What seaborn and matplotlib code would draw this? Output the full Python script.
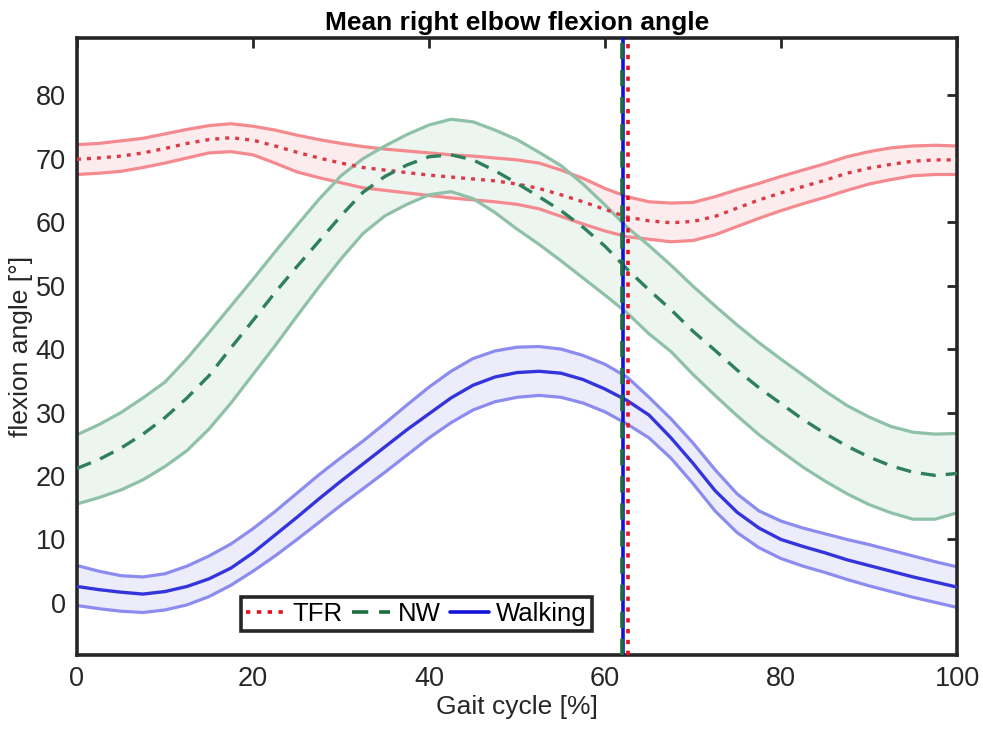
import numpy as np
import pandas as pd
import matplotlib
matplotlib.use("Agg")
import matplotlib.pyplot as plt
import seaborn as sns

# gait cycle samples (%)
gait = [0, 2.5, 5, 7.5, 10, 12.5, 15, 17.5, 20, 22.5, 25, 27.5, 30, 32.5, 35, 37.5, 40,
        42.5, 45, 47.5, 50, 52.5, 55, 57.5, 60, 62.5, 65, 67.5, 70, 72.5, 75, 77.5, 80,
        82.5, 85, 87.5, 90, 92.5, 95, 97.5, 100]

# TFR
tfr_mean = [69.9, 70.1, 70.4, 70.9, 71.6, 72.4, 73.0, 73.3, 72.9, 72.0, 71.0, 70.1, 69.3, 68.6,
            68.2, 67.8, 67.4, 67.1, 66.8, 66.5, 66.0, 65.3, 64.3, 63.2, 62.0, 60.8, 60.2, 59.9,
            60.1, 60.9, 62.2, 63.5, 64.6, 65.6, 66.6, 67.7, 68.5, 69.1, 69.6, 69.8, 69.8]
tfr_upper = [72.2, 72.4, 72.8, 73.2, 73.9, 74.6, 75.2, 75.5, 75.1, 74.5, 73.7, 73.0, 72.4, 71.9,
             71.5, 71.2, 70.9, 70.6, 70.4, 70.1, 69.8, 69.3, 68.2, 66.9, 65.3, 64.0, 63.2, 63.0,
             63.1, 64.0, 65.1, 66.1, 67.2, 68.2, 69.2, 70.3, 71.1, 71.7, 72.0, 72.1, 72.0]
tfr_lower = [67.5, 67.7, 68.0, 68.6, 69.3, 70.1, 70.9, 71.1, 70.6, 69.3, 67.9, 67.0, 66.2, 65.4,
             65.0, 64.6, 64.2, 63.8, 63.5, 63.2, 62.8, 62.1, 60.9, 59.7, 58.6, 57.7, 57.3, 56.9,
             57.1, 58.0, 59.3, 60.6, 61.8, 62.9, 63.9, 65.0, 66.0, 66.7, 67.3, 67.5, 67.5]

# NW
nw_mean = [21.2, 22.6, 24.4, 26.6, 29.2, 32.3, 35.8, 40.2, 44.5, 48.9, 53.0, 57.0, 61.0, 64.7,
           67.2, 69.0, 70.3, 70.6, 69.8, 68.1, 66.1, 64.0, 61.8, 59.2, 56.2, 52.6, 49.3, 46.2,
           42.8, 39.8, 36.7, 33.9, 31.4, 28.9, 26.7, 24.7, 23.0, 21.6, 20.6, 20.1, 20.4]
nw_upper = [26.5, 28.1, 30.0, 32.3, 34.8, 38.5, 42.6, 46.8, 51.0, 55.3, 59.5, 63.6, 67.3, 70.0,
            72.0, 73.8, 75.3, 76.2, 75.8, 74.5, 73.0, 71.0, 68.9, 66.0, 62.7, 59.2, 56.3, 53.2,
            49.9, 46.8, 43.8, 41.0, 38.4, 35.9, 33.4, 31.1, 29.3, 27.8, 26.9, 26.6, 26.7]
nw_lower = [15.6, 16.6, 17.8, 19.4, 21.5, 24.0, 27.4, 31.5, 36.0, 40.5, 45.2, 49.8, 54.2, 58.2,
            61.0, 62.8, 64.3, 64.8, 63.7, 61.5, 58.9, 56.5, 53.9, 51.2, 48.5, 45.7, 42.4, 39.6,
            36.0, 32.7, 29.5, 26.5, 23.9, 21.4, 19.2, 17.2, 15.5, 14.2, 13.2, 13.2, 14.2]

# Walking
walk_mean = [2.6, 2.1, 1.7, 1.4, 1.8, 2.6, 3.8, 5.5, 7.9, 10.7, 13.5, 16.4, 19.2, 21.9, 24.6,
             27.3, 29.8, 32.3, 34.3, 35.6, 36.3, 36.5, 36.2, 35.2, 33.7, 31.9, 29.6, 26.0, 22.0,
             17.7, 14.3, 11.8, 10.0, 8.9, 7.9, 6.8, 5.9, 5.0, 4.1, 3.3, 2.5]
walk_upper = [5.9, 5.0, 4.3, 4.1, 4.6, 5.8, 7.4, 9.3, 11.7, 14.4, 17.3, 20.2, 22.9, 25.5, 28.3,
              31.2, 34.0, 36.5, 38.5, 39.7, 40.3, 40.4, 40.0, 39.0, 37.6, 35.6, 32.4, 29.0, 25.2,
              21.0, 17.2, 14.5, 12.9, 11.8, 10.9, 10.0, 9.2, 8.3, 7.4, 6.5, 5.7]
walk_lower = [-0.4, -0.9, -1.3, -1.5, -1.1, -0.3, 1.0, 2.8, 5.0, 7.4, 10.0, 12.7, 15.4, 18.0,
              20.6, 23.3, 26.0, 28.4, 30.4, 31.7, 32.4, 32.7, 32.4, 31.5, 30.1, 28.2, 26.0, 22.8,
              18.8, 14.5, 11.1, 8.7, 7.0, 5.8, 4.8, 3.7, 2.7, 1.8, 0.9, 0.1, -0.7]

# toe-off events (%)
conditions = ["TFR", "NW", "Walking"]
toe_off = [62.65, 61.9, 62.1]

df = pd.DataFrame({
    "gait": gait,
    "tfr_mean": tfr_mean, "tfr_upper": tfr_upper, "tfr_lower": tfr_lower,
    "nw_mean": nw_mean, "nw_upper": nw_upper, "nw_lower": nw_lower,
    "walk_mean": walk_mean, "walk_upper": walk_upper, "walk_lower": walk_lower,
})

sns.set_theme(style="white")
plt.rcParams["font.family"] = ["Liberation Sans", "DejaVu Sans"]

fig = plt.figure(figsize=(9.83, 7.34), dpi=100)
ax = fig.add_axes([0.0783, 0.1076, 0.8953, 0.8406])

dotted = (0, (1.2, 1.8))
dashed = (0, (4.5, 3))

# shaded bands + edges
bands = [
    ("tfr", "#f48a8e", "#fdeced", "#dc3a45", dotted),
    ("nw", "#8fc1a8", "#ecf5f0", "#2e7f5c", dashed),
    ("walk", "#8c8cf0", "#ececfb", "#3434dd", "-"),
]
for key, edge, fill, line, ls in bands:
    ax.fill_between(df["gait"], df[key + "_lower"], df[key + "_upper"], color=fill, lw=0, zorder=1)
    sns.lineplot(data=df, x="gait", y=key + "_upper", color=edge, lw=2.3, ax=ax, zorder=2)
    sns.lineplot(data=df, x="gait", y=key + "_lower", color=edge, lw=2.3, ax=ax, zorder=2)
    sns.lineplot(data=df, x="gait", y=key + "_mean", color=line, lw=2.4, ax=ax, zorder=3)
    ax.lines[-1].set_linestyle(ls)

# toe-off vertical lines
vcolors = {"TFR": "#e8101a", "NW": "#1b6e3e", "Walking": "#1212d8"}
vstyles = {"TFR": dotted, "NW": dashed, "Walking": "-"}
handles = {}
for name in ["Walking", "NW", "TFR"]:
    x = toe_off[conditions.index(name)]
    handles[name] = ax.axvline(x, color=vcolors[name], ls=vstyles[name], lw=2.6, zorder=4)

ax.set_xlim(0, 100)
ax.set_ylim(-8.2, 89)
ax.set_xticks(range(0, 101, 20))
ax.set_yticks(range(0, 81, 10))
ax.tick_params(direction="in", top=True, right=True, length=7, width=2,
               labelsize=19.5, colors="#262626", pad=8)
for s in ax.spines.values():
    s.set_linewidth(2.6)
    s.set_color("#262626")

ax.set_xlabel("Gait cycle [%]", fontsize=19, color="#262626", labelpad=2)
ax.set_ylabel("flexion angle [°]", fontsize=19, color="#262626", labelpad=2)
ax.set_title("Mean right elbow flexion angle", fontsize=19, fontweight="bold",
             color="black", pad=6)

leg = ax.legend([handles[c] for c in conditions], conditions, loc="center",
                bbox_to_anchor=(0.386, 0.066), ncol=3, fontsize=18.5, frameon=True,
                fancybox=False, framealpha=1, edgecolor="#262626",
                handlelength=1.5, handletextpad=0.3, columnspacing=0.35,
                borderpad=0.2, borderaxespad=0)
leg.get_frame().set_linewidth(2.6)
for t in leg.get_texts():
    t.set_color("black")

fig.savefig("out.png", dpi=100)
